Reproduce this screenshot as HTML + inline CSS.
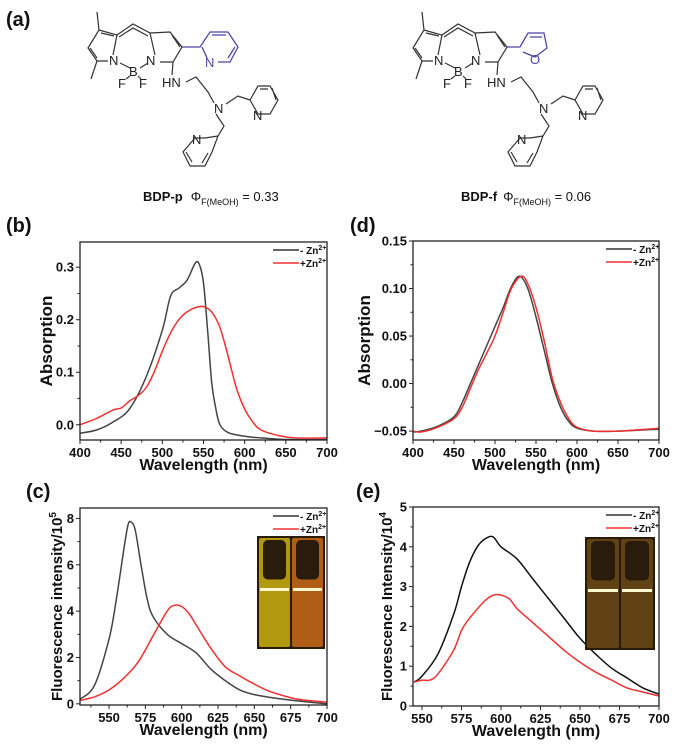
<!DOCTYPE html>
<html><head><meta charset="utf-8">
<style>
html,body{margin:0;padding:0;background:#fff;}
svg{display:block;font-family:"Liberation Sans",Arial,sans-serif;}
.tk{font-size:13px;font-weight:bold;fill:#111;}
.ax{font-size:16px;font-weight:bold;fill:#111;}
.pl{font-size:20px;font-weight:bold;fill:#111;}
.mol{stroke:#333;stroke-width:1.2;fill:none;}
.blue{stroke:#4a48a8;stroke-width:1.3;fill:none;}
.at{font-size:13px;fill:#222;}
</style></head>
<body>
<svg id="fig" width="700" height="755" viewBox="0 0 700 755">
<rect width="700" height="755" fill="#fff"/>
<g id="mols"></g>
<text class="pl" x="6" y="26">(a)</text>
<text x="143" y="201" style="font-size:13px;fill:#111"><tspan font-weight="bold">BDP-p</tspan><tspan dx="8">Φ</tspan><tspan style="font-size:9px" dy="4">F(MeOH)</tspan><tspan dy="-4"> = 0.33</tspan></text>
<text x="461" y="201" style="font-size:13px;fill:#111"><tspan font-weight="bold">BDP-f</tspan><tspan dx="6">Φ</tspan><tspan style="font-size:9px" dy="4">F(MeOH)</tspan><tspan dy="-4"> = 0.06</tspan></text>
<text class="pl" x="6" y="232">(b)</text>
<text class="pl" x="350" y="232">(d)</text>
<text class="pl" x="26" y="498">(c)</text>
<text class="pl" x="356" y="498">(e)</text>
<g id="charts"></g>
</svg>
<script>
// ---- Panel b data (BDP-p absorption) ----
const bX_black=[400,420,440,460,480,500,510,520,530,540,545,550,555,560,565,570,580,600,620,650,700];
const bY_black=[-0.016,-0.01,0.005,0.03,0.09,0.18,0.245,0.26,0.275,0.308,0.305,0.27,0.18,0.08,0.03,0.0,-0.015,-0.022,-0.025,-0.028,-0.028];
const bX_red=[400,420,440,450,460,470,480,490,500,510,520,530,540,550,560,570,580,590,600,610,620,640,660,700];
const bY_red=[0.0,0.012,0.028,0.032,0.045,0.055,0.07,0.1,0.14,0.175,0.2,0.215,0.223,0.225,0.215,0.185,0.13,0.07,0.03,0.005,-0.01,-0.02,-0.025,-0.025];
const bYTicks=[0.0,0.1,0.2,0.3];
const bYTickLabels=["0.0","0.1","0.2","0.3"];
const absXTicks=[400,450,500,550,600,650,700];
// ---- Panel c data (BDP-p fluorescence) ----
const cX_black=[530,540,550,555,560,563,565,568,572,576,580,590,600,610,620,630,640,650,670,700];
const cY_black=[0.2,0.8,2.8,4.5,6.6,7.7,7.85,7.5,6.0,4.6,3.8,3.0,2.6,2.2,1.5,1.0,0.6,0.4,0.2,0.0];
const cX_red=[530,540,550,560,570,580,590,595,600,605,610,620,630,640,650,660,670,680,700];
const cY_red=[0.15,0.3,0.6,1.1,1.8,2.9,4.0,4.25,4.2,3.9,3.4,2.4,1.6,1.2,0.85,0.55,0.35,0.2,0.07];
const cYTicks=[0,2,4,6,8];
const cXTicks=[550,575,600,625,650,675,700];
// ---- Panel d data (BDP-f absorption) ----
const dX_black=[400,410,430,450,460,470,480,490,500,510,520,530,540,550,560,570,580,590,600,620,650,700];
const dY_black=[-0.051,-0.05,-0.045,-0.035,-0.02,0.0,0.02,0.04,0.06,0.08,0.102,0.113,0.1,0.07,0.035,0.0,-0.025,-0.04,-0.047,-0.05,-0.05,-0.048];
const dX_red=[400,410,430,450,460,470,480,490,500,510,520,532,540,550,560,570,580,590,600,620,650,700];
const dY_red=[-0.05,-0.051,-0.046,-0.037,-0.025,-0.005,0.015,0.032,0.05,0.075,0.1,0.113,0.105,0.08,0.045,0.005,-0.02,-0.037,-0.046,-0.05,-0.05,-0.047];
const dYTicks=[-0.05,0.0,0.05,0.10,0.15];
const dYTickLabels=["\u22120.05","0.00","0.05","0.10","0.15"];
// ---- Panel e data (BDP-f fluorescence) ----
const eX_black=[545,550,560,570,575,580,585,590,595,600,610,620,630,640,650,660,670,680,690,700];
const eY_black=[0.6,0.75,1.3,2.3,3.0,3.6,4.0,4.2,4.25,4.0,3.7,3.2,2.7,2.2,1.7,1.3,0.95,0.7,0.45,0.3];
const eX_red=[545,550,555,560,570,575,580,590,597,605,610,620,630,640,650,660,670,680,690,700];
const eY_red=[0.6,0.65,0.65,0.8,1.4,1.9,2.2,2.65,2.8,2.7,2.45,2.1,1.75,1.4,1.1,0.85,0.65,0.45,0.35,0.25];
const eYTicks=[0,1,2,3,4,5];
const eXTicks=[550,575,600,625,650,675,700];

const NS="http://www.w3.org/2000/svg";
function mk(tag,attrs,parent){const e=document.createElementNS(NS,tag);for(const k in attrs)e.setAttribute(k,attrs[k]);if(parent)parent.appendChild(e);return e;}
function smooth(pts){let d="M"+pts[0][0].toFixed(1)+","+pts[0][1].toFixed(1);
 for(let i=0;i<pts.length-1;i++){const p0=pts[i-1]||pts[i],p1=pts[i],p2=pts[i+1],p3=pts[i+2]||p2;
  const c1=[p1[0]+(p2[0]-p0[0])/6,p1[1]+(p2[1]-p0[1])/6],c2=[p2[0]-(p3[0]-p1[0])/6,p2[1]-(p3[1]-p1[1])/6];
  d+=" C"+c1[0].toFixed(1)+","+c1[1].toFixed(1)+" "+c2[0].toFixed(1)+","+c2[1].toFixed(1)+" "+p2[0].toFixed(1)+","+p2[1].toFixed(1);}
 return d;}

function chart(o){
 const root=document.getElementById('charts');
 const g=mk('g',{},root);
 
 
 const sx=v=>o.x0+(v-o.xmin)/(o.xmax-o.xmin)*(o.x1-o.x0);
 const sy=v=>o.y1-(v-o.ymin)/(o.ymax-o.ymin)*(o.y1-o.y0);
 // series
 o.series.forEach(s=>{
  const pts=s.x.map((v,i)=>[sx(v),sy(s.y[i])]);
  const p=mk('path',{d:smooth(pts),stroke:s.color,'stroke-width':1.5,fill:'none'},g);
  
  
 });
 // frame
 const fr=mk('rect',{x:o.x0,y:o.y0,width:o.x1-o.x0,height:o.y1-o.y0,fill:'none',stroke:'#222','stroke-width':1.3},g);
 
 
 // x ticks
 const xs=o.xTicks[1]-o.xTicks[0];
 for(let v=o.xTicks[0]-xs/2;v<=o.xmax+0.01;v+=xs/2){
  if(v<o.xmin-0.01)continue;
  const major=o.xTicks.some(t=>Math.abs(t-v)<0.01);
  mk('line',{x1:sx(v),x2:sx(v),y1:o.y1,y2:o.y1+(major?4:2.5),stroke:'#222','stroke-width':1},g);
 }
 o.xTicks.forEach(v=>{
  const t=mk('text',{x:sx(v),y:o.y1+17,'text-anchor':'middle',class:'tk'},g);t.textContent=String(v);
  
  
 });
 // y ticks
 const ys=o.yTicks[1]-o.yTicks[0];
 for(let v=o.yTicks[0]-ys/2;v<=o.ymax+1e-6;v+=ys/2){
  if(v<o.ymin-1e-6)continue;
  const major=o.yTicks.some(t=>Math.abs(t-v)<1e-6);
  mk('line',{x1:o.x0-(major?4:2.5),x2:o.x0,y1:sy(v),y2:sy(v),stroke:'#222','stroke-width':1},g);
 }
 o.yTicks.forEach((v,i)=>{
  const t=mk('text',{x:o.x0-6,y:sy(v)+4.5,'text-anchor':'end',class:'tk'},g);t.textContent=o.yLabels[i];
  
  
 });
 // axis titles
 const xt=mk('text',{x:(o.x0+o.x1)/2,y:o.y1+30,'text-anchor':'middle',class:'ax'},g);xt.textContent='Wavelength (nm)';
 
 
 const yt=mk('text',{x:0,y:0,'text-anchor':'middle',class:'ax',transform:`translate(${o.ytx},${(o.y0+o.y1)/2}) rotate(-90)`,style:'font-size:'+o.yfs+'px'},g);
 yt.innerHTML=o.ytitle;
 
 
 // legend
 [['#333','- Zn'],['#f03030','+Zn']].forEach((L,i)=>{
  const ly=o.y0+8+i*13;
  const ln=mk('line',{x1:o.lx,x2:o.lx+26,y1:ly,y2:ly,stroke:L[0],'stroke-width':1.5},g);
  
  
  const t=mk('text',{x:o.lx+27,y:ly+4,style:'font-size:10px;font-weight:bold;fill:#111'},g);
  t.innerHTML=L[1]+'<tspan dy="-4" style="font-size:7px">2+</tspan>';
  
  
 });
 // inset photo
 if(o.inset){
  const [ix,iy,iw,ih,c1,c2]=o.inset;
  const ig=mk('g',{},g);
  
  
  mk('rect',{x:ix,y:iy,width:iw,height:ih,fill:'#2a1a08'},ig);
  const cw=iw/2-3;
  [[c1,ix+2],[c2,ix+iw/2+1]].forEach(([col,cx])=>{
   mk('rect',{x:cx,y:iy+2,width:cw,height:ih-4,fill:col,opacity:0.85,rx:2},ig);
   mk('rect',{x:cx+4,y:iy+4,width:cw-8,height:ih*0.35,fill:'#2a1c0c',rx:5},ig);
   mk('rect',{x:cx+1,y:iy+ih*0.46,width:cw-2,height:3,fill:'#fff8d0'},ig);
  });
 }
}

chart({name:'panel-b-absorption',x0:80,x1:327,y0:242,y1:440,xmin:400,xmax:700,ymin:-0.029,ymax:0.348,
 xTicks:absXTicks,yTicks:bYTicks,yLabels:bYTickLabels,ytitle:'Absorption',ytx:52,yfs:17,lx:273,
 series:[{name:'series-minus-zn',x:bX_black,y:bY_black,color:'#444'},{name:'series-plus-zn',x:bX_red,y:bY_red,color:'#f03030'}]});
chart({name:'panel-d-absorption',x0:413,x1:659,y0:241,y1:440,xmin:400,xmax:700,ymin:-0.0594,ymax:0.15,
 xTicks:absXTicks,yTicks:dYTicks,yLabels:dYTickLabels,ytitle:'Absorption',ytx:370,yfs:17,lx:606,
 series:[{name:'series-minus-zn',x:dX_black,y:dY_black,color:'#444'},{name:'series-plus-zn',x:dX_red,y:dY_red,color:'#f03030'}]});
chart({name:'panel-c-fluorescence',x0:80,x1:327,y0:508,y1:705,xmin:530,xmax:700,ymin:-0.05,ymax:8.45,
 xTicks:cXTicks,yTicks:cYTicks,yLabels:cYTicks.map(String),ytitle:'Fluorescence intensity/10<tspan dy="-6" style="font-size:10px">5</tspan>',ytx:62,yfs:15,lx:273,
 inset:[257,536,68,113,'#c8b010','#c86a18'],
 series:[{name:'series-minus-zn',x:cX_black,y:cY_black,color:'#444'},{name:'series-plus-zn',x:cX_red,y:cY_red,color:'#f03030'}]});
chart({name:'panel-e-fluorescence',x0:413,x1:659,y0:507,y1:706,xmin:544.3,xmax:700,ymin:0,ymax:5,
 xTicks:eXTicks,yTicks:eYTicks,yLabels:eYTicks.map(String),ytitle:'Fluorescence Intensity/10<tspan dy="-6" style="font-size:10px">4</tspan>',ytx:392,yfs:15,lx:606,
 inset:[585,537,70,113,'#6a4a18','#6a4a18'],
 series:[{name:'series-minus-zn',x:eX_black,y:eY_black,color:'#111'},{name:'series-plus-zn',x:eX_red,y:eY_red,color:'#f03030'}]});

// ---- structures ----
function molecule(dx,name,furan){
 const g=mk('g',{transform:`translate(${dx},0)`},document.getElementById('mols'));
 
 
 const P=d=>mk('path',{d:d,class:'mol'},g);
 P('M97,12 L99,30 L88,48 L97,61 M99,30 L117,35 L113,55 M101,33 L114,36 M90,48 L97,58 M97,61 L108,61 M97,61 L91,79');
 P('M117,35 L133,24 L150,33 M119,37 L133,28 L148,36 M150,33 L155,55 M150,33 L170,32 L182,47 L173,62 L160,62 M172,35 L180,47');
 P('M120,63 L130,68 M140,68 L148,63 M130,76 L126,79 M138,76 L141,79');
 P('M173,62 L172,75 M186,82 L196,77 L208,92 L214,103 M226,104 L238,96 L250,100 M216,114 L224,126 L218,136');
 // right pyridine
 P('M250,100 L258,114 L270,114 L278,100 L270,86 L258,86 L250,100 M272,88 L276,100 M260,89 L268,89');
 // lower pyridine
 P('M218,136 L205,138 L195,138 L183,152 L190,166 L205,166 L212,152 L218,136 M186,152 L192,162 M202,163 L208,153');
 if(furan){
  mk('path',{d:'M182,47 L195,47 L203,33 L219,33 L222,48 L210,57 L198,52 M205,37 L217,37',class:'blue'},g);
  const t=mk('text',{x:205,y:64,class:'at',fill:'#4a48a8',style:'fill:#4a48a8'},g);t.textContent='O';
 } else {
  mk('path',{d:'M182,47 L200,47 L210,32 L228,32 L238,47 L230,62 L218,62 M202,47 L207,58 M212,35 L226,35 M235,47 L228,58',class:'blue'},g);
  const t=mk('text',{x:205,y:67,class:'at',style:'fill:#4a48a8'},g);t.textContent='N';
 }
 [['N',109,65],['B',129,76],['F',118,88],['F',139,88],['N',146,65],['HN',162,87],['N',214,113],['N',253,120],['N',192,144]].forEach(a=>{
  const t=mk('text',{x:a[1],y:a[2],class:'at'},g);t.textContent=a[0];
 });
}
molecule(0,'structure-bdp-p',false);
molecule(325,'structure-bdp-f',true);
</script>
</body></html>
